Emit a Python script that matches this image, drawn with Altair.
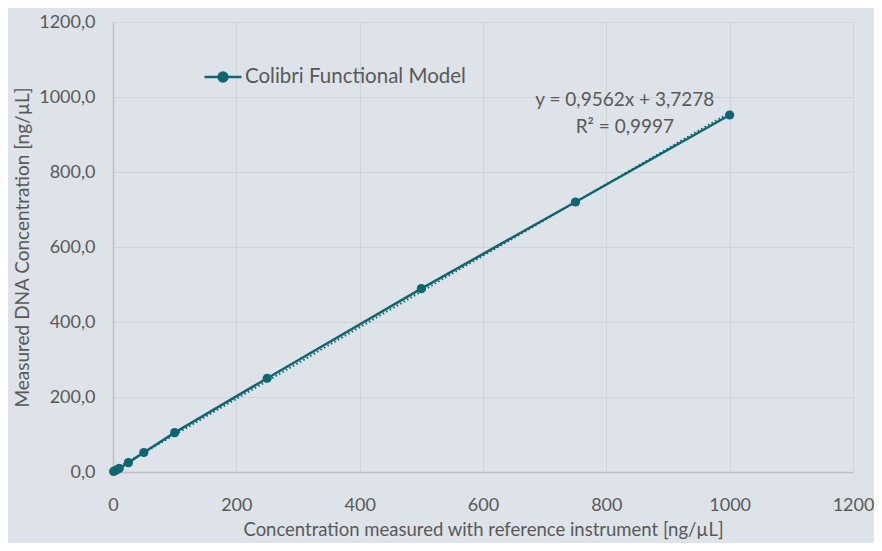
import altair as alt
import pandas as pd

# data
ref_conc = [1, 5, 10, 25, 50, 100, 250, 500, 750, 1000]
measured = [1.5, 5.0, 9.5, 25.0, 52.0, 105.0, 250.0, 489.0, 720.0, 952.0]
series_name = "Colibri Functional Model"
eq_lines = ["y = 0,9562x + 3,7278", "R² = 0,9997"]
eq_pos_x = [830, 830]
eq_pos_y = [992, 920]

df = pd.DataFrame({"x": ref_conc, "y": measured, "s": [series_name] * len(ref_conc)})
eq_df = pd.DataFrame({"x": eq_pos_x, "y": eq_pos_y, "t": eq_lines})

teal = "#0f6571"
txt = "#595959"
font = "Lato"

xsc = alt.Scale(domain=[0, 1200], nice=False)
ysc = alt.Scale(domain=[0, 1200], nice=False)

base = alt.Chart(df)

line = base.mark_line(strokeWidth=2.5).encode(
    x=alt.X("x:Q", scale=xsc,
            axis=alt.Axis(values=list(range(0, 1201, 200)), format="d",
                          title="Concentration measured with reference instrument [ng/µL]")),
    y=alt.Y("y:Q", scale=ysc,
            axis=alt.Axis(values=list(range(0, 1201, 200)),
                          labelExpr="replace(format(datum.value, '.1f'), '.', ',')",
                          title="Measured DNA Concentration [ng/µL]")),
    color=alt.Color("s:N", scale=alt.Scale(range=[teal]),
                    legend=alt.Legend(title=None, orient="none", legendX=90, legendY=35,
                                      symbolType="M-1,0H1M-0.24,0A0.24,0.24,0,1,1,0.24,0A0.24,0.24,0,1,1,-0.24,0Z",
                                      symbolSize=1369, symbolStrokeWidth=2.5,
                                      symbolFillColor=teal, symbolStrokeColor=teal,
                                      labelFontSize=20.5, labelColor=txt, labelFont=font,
                                      labelOffset=2, labelLimit=400)),
)

pts = base.mark_point(filled=True, size=85, opacity=1, color=teal).encode(
    x="x:Q", y="y:Q"
)

trend = base.transform_regression("x", "y", extent=[0, 1000]).mark_line(
    color=teal, strokeWidth=2, strokeDash=[1.5, 2.5]
).encode(x="x:Q", y="y:Q")

eq = alt.Chart(eq_df).mark_text(fontSize=19, color=txt, font=font, align="center").encode(
    x="x:Q", y="y:Q", text="t:N"
)

chart = alt.layer(trend, line, pts, eq).properties(
    width=740, height=450,
    background="#dde3e9",
    padding={"left": 105, "top": 14, "right": 21, "bottom": 71},
    autosize=alt.AutoSizeParams(type="none"),
).configure_view(stroke=None).configure_axis(
    grid=True, gridColor="#cfd4d9", gridWidth=1,
    domain=False, ticks=False,
    labelFont=font, labelFontSize=18, labelColor=txt,
    titleFont=font, titleColor=txt, titleFontWeight="normal",
).configure_axisX(labelPadding=24, titlePadding=6, titleFontSize=18.5, labelFlush=False,
                  domain=True, domainColor="#bfbfbf", domainWidth=1.5).configure_axisY(
    labelPadding=18, titlePadding=6, titleFontSize=19, labelFlush=False,
    domain=True, domainColor="#bfbfbf", domainWidth=1.5
)

chart.save("out.html", embed_options={"renderer": "svg", "actions": False})
